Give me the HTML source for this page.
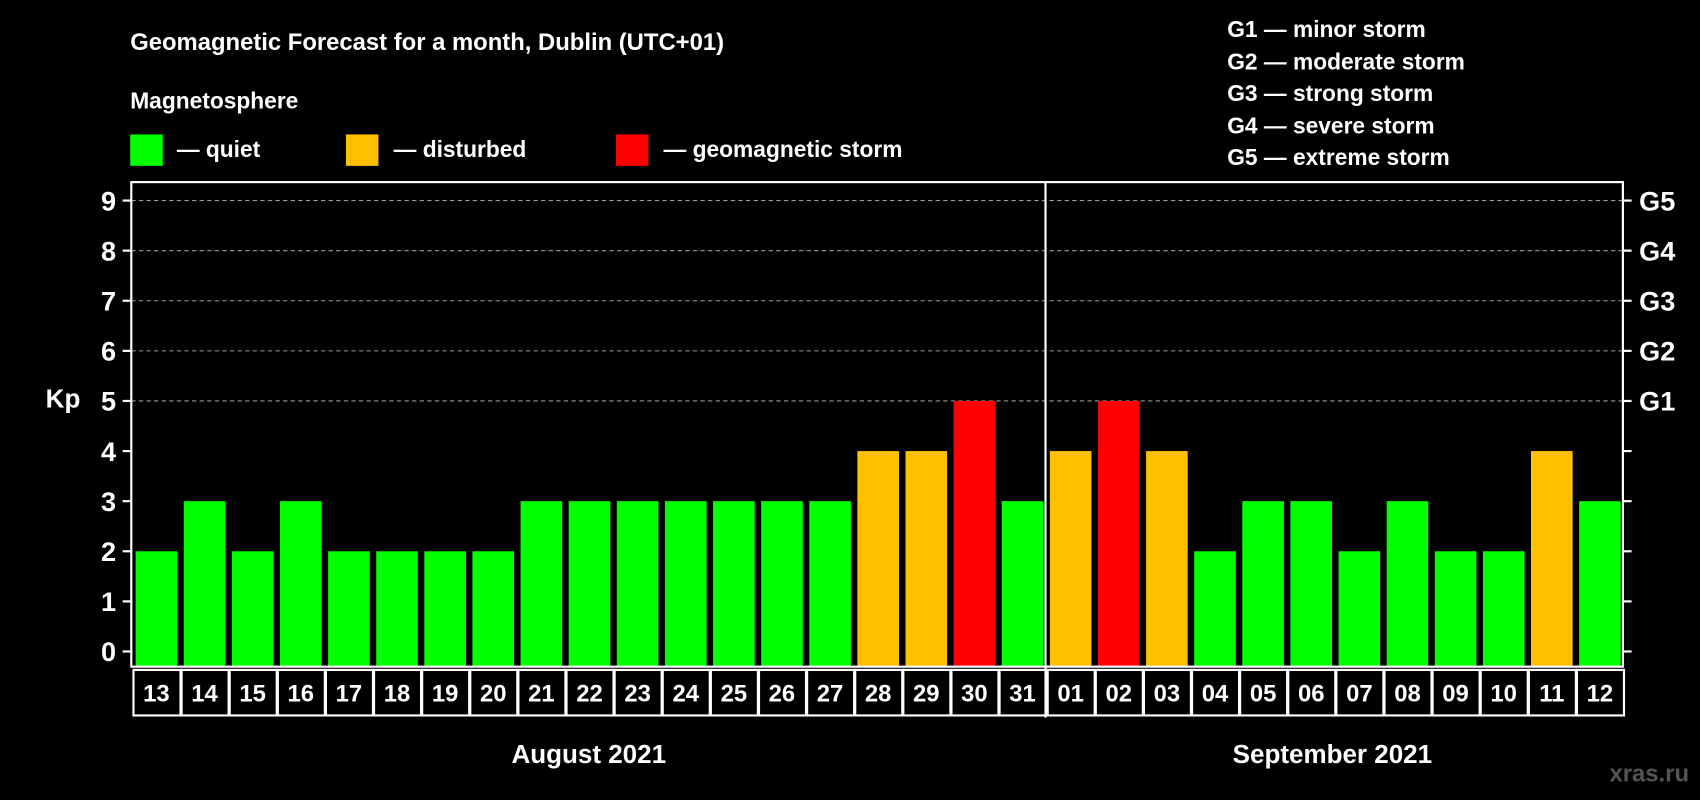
<!DOCTYPE html>
<html><head><meta charset="utf-8"><style>
html,body{margin:0;padding:0;background:#000;}
svg{display:block;}
text{font-family:"Liberation Sans",Arial,sans-serif;font-weight:bold;fill:#fff;}
</style></head><body>
<svg id="chart" width="1700" height="800" viewBox="0 0 1568 738">
<rect width="1568" height="738" fill="#000"/>
<text x="120" y="46" font-size="22">Geomagnetic Forecast for a month, Dublin (UTC+01)</text>
<text x="120" y="100" font-size="21">Magnetosphere</text>
<g><rect x="120" y="124" width="30" height="29" fill="#00ff00"/><text x="163" y="145" font-size="21">— quiet</text></g>
<g><rect x="319" y="124" width="30" height="29" fill="#ffc000"/><text x="363" y="145" font-size="21">— disturbed</text></g>
<g><rect x="568" y="124" width="30" height="29" fill="#ff0000"/><text x="612" y="145" font-size="21">— geomagnetic storm</text></g>
<g font-size="21">
<text x="1132" y="34">G1 — minor storm</text>
<text x="1132" y="64">G2 — moderate storm</text>
<text x="1132" y="93">G3 — strong storm</text>
<text x="1132" y="123">G4 — severe storm</text>
<text x="1132" y="152">G5 — extreme storm</text>
</g>
<text x="58" y="376" font-size="24" text-anchor="middle">Kp</text>
<g id="grid"></g><g id="bars"></g><g id="axes"></g>
<text x="543" y="704" font-size="24" text-anchor="middle">August 2021</text>
<text x="1229" y="704" font-size="24" text-anchor="middle">September 2021</text>
<text x="1558" y="721" font-size="22" text-anchor="end" style="fill:#555">xras.ru</text>
</svg>
<script>
const days = ["13","14","15","16","17","18","19","20","21","22","23","24","25","26","27","28","29","30","31","01","02","03","04","05","06","07","08","09","10","11","12"];
const kpValues = [2,3,2,3,2,2,2,2,3,3,3,3,3,3,3,4,4,5,3,4,5,4,2,3,3,2,3,2,2,4,3];
const yTicks = [0,1,2,3,4,5,6,7,8,9];
const gLabels = ["G1","G2","G3","G4","G5"];
const NS="http://www.w3.org/2000/svg";
const L=121,R=1497,T=168,B=615;
const pitch=(R-L)/days.length;
function xs(i){return L+i*pitch;}
function ys(v){return 601-v*(601-185)/9;}
function mk(tag,attrs,parent){const e=document.createElementNS(NS,tag);for(const k in attrs)e.setAttribute(k,attrs[k]);parent.appendChild(e);return e;}
const grid=document.getElementById('grid'),bars=document.getElementById('bars'),axes=document.getElementById('axes');
yTicks.forEach(v=>{
  const y=ys(v);
  if(v>=5){const g=mk('line',{x1:L,x2:R,y1:y,y2:y,stroke:'#999','stroke-dasharray':'4,3','stroke-width':1},grid);
  
  }
  const t1=mk('line',{x1:L-8,x2:L,y1:y,y2:y,stroke:'#fff','stroke-width':2},axes);
  
  
  const t2=mk('line',{x1:R,x2:R+8,y1:y,y2:y,stroke:'#fff','stroke-width':2},axes);
  
  
  const lb=mk('text',{x:L-14,y:y+9,'font-size':25,'text-anchor':'end'},axes);lb.textContent=v;
  
  
});
gLabels.forEach((g,i)=>{
  const y=ys(5+i);
  const lb=mk('text',{x:R+15,y:y+9,'font-size':25},axes);lb.textContent=g;
  
  
});
days.forEach((d,i)=>{
  const v=kpValues[i];
  const col=v>=5?'#ff0000':(v>=4?'#ffc000':'#00ff00');
  const b=mk('rect',{x:xs(i)+4,y:ys(v),width:pitch-6,height:B-ys(v),fill:col},bars);
  
  
  const c=mk('rect',{x:xs(i)+2,y:618,width:pitch-1,height:42,fill:'none',stroke:'#fff','stroke-width':2},axes);
  
  
  const t=mk('text',{x:xs(i)+pitch/2+1,y:647,'font-size':22,'text-anchor':'middle'},axes);t.textContent=d;
  
  
});
const fr=mk('rect',{x:L,y:T,width:R-L,height:B-T,fill:'none',stroke:'#fff','stroke-width':2},axes);


const si=days.indexOf("01");
const dv=mk('line',{x1:xs(si),x2:xs(si),y1:T,y2:662,stroke:'#fff','stroke-width':2},axes);


</script>
</body></html>
